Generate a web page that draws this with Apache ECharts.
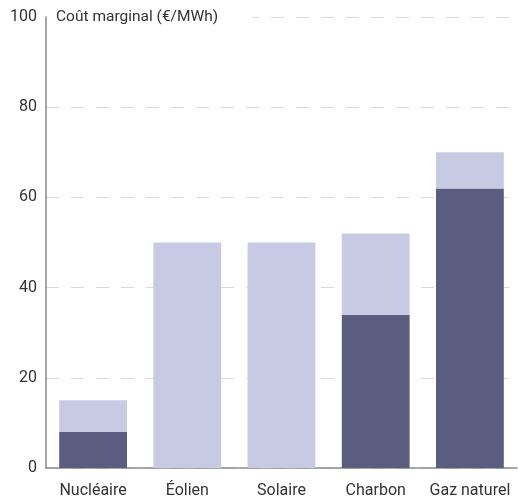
<!DOCTYPE html>
<html>
<head>
<meta charset="utf-8">
<script src="https://cdn.jsdelivr.net/npm/echarts@6/dist/echarts.min.js"></script>
<style>
  html, body { margin: 0; padding: 0; background: #fff; }
  #chart { width: 519px; height: 499px; }
</style>
</head>
<body>
<div id="chart"></div>
<script>
// sources et coûts marginaux
const categories = ['Nucléaire', 'Éolien', 'Solaire', 'Charbon', 'Gaz naturel'];
const baseCost = [8, 0, 0, 34, 62];
const extraCost = [7, 50, 50, 18, 8];
const yTicks = [0, 20, 40, 60, 80, 100];

const chart = echarts.init(document.getElementById('chart'));

const options = {
  animation: false,
  textStyle: { fontFamily: 'Roboto' },
  grid: {
    left: 46,
    right: 2,
    top: 17,
    bottom: 31,
  },
  xAxis: {
    type: 'category',
    data: categories,
    axisTick: { show: false },
    axisLine: { lineStyle: { color: '#8a8a8a', width: 1.5 } },
    axisLabel: { color: '#333', fontSize: 16, margin: 15, interval: 0 },
  },
  yAxis: {
    type: 'value',
    min: yTicks[0],
    max: yTicks[yTicks.length - 1],
    interval: 20,
    name: 'Coût marginal (€/MWh)',
    nameLocation: 'end',
    nameGap: 0,
    nameTextStyle: {
      align: 'left',
      verticalAlign: 'middle',
      color: '#333',
      fontSize: 15.5,
      backgroundColor: '#fff',
      padding: [2, 34, 2, 10],
    },
    axisLine: { show: true, lineStyle: { color: '#8a8a8a', width: 1.5 } },
    axisTick: { show: false },
    axisLabel: { color: '#333', fontSize: 16, margin: 9 },
    splitLine: {
      show: true,
      lineStyle: { type: [13, 12], color: '#d9d9d9', width: 1 },
    },
  },
  series: [
    {
      name: 'base',
      type: 'bar',
      stack: 'cout',
      barWidth: '72%',
      itemStyle: { color: '#5a5c80' },
      data: baseCost,
    },
    {
      name: 'extra',
      type: 'bar',
      stack: 'cout',
      barWidth: '72%',
      itemStyle: { color: '#c8c9e3' },
      data: extraCost,
    },
  ],
};

chart.setOption(options);
</script>
</body>
</html>
